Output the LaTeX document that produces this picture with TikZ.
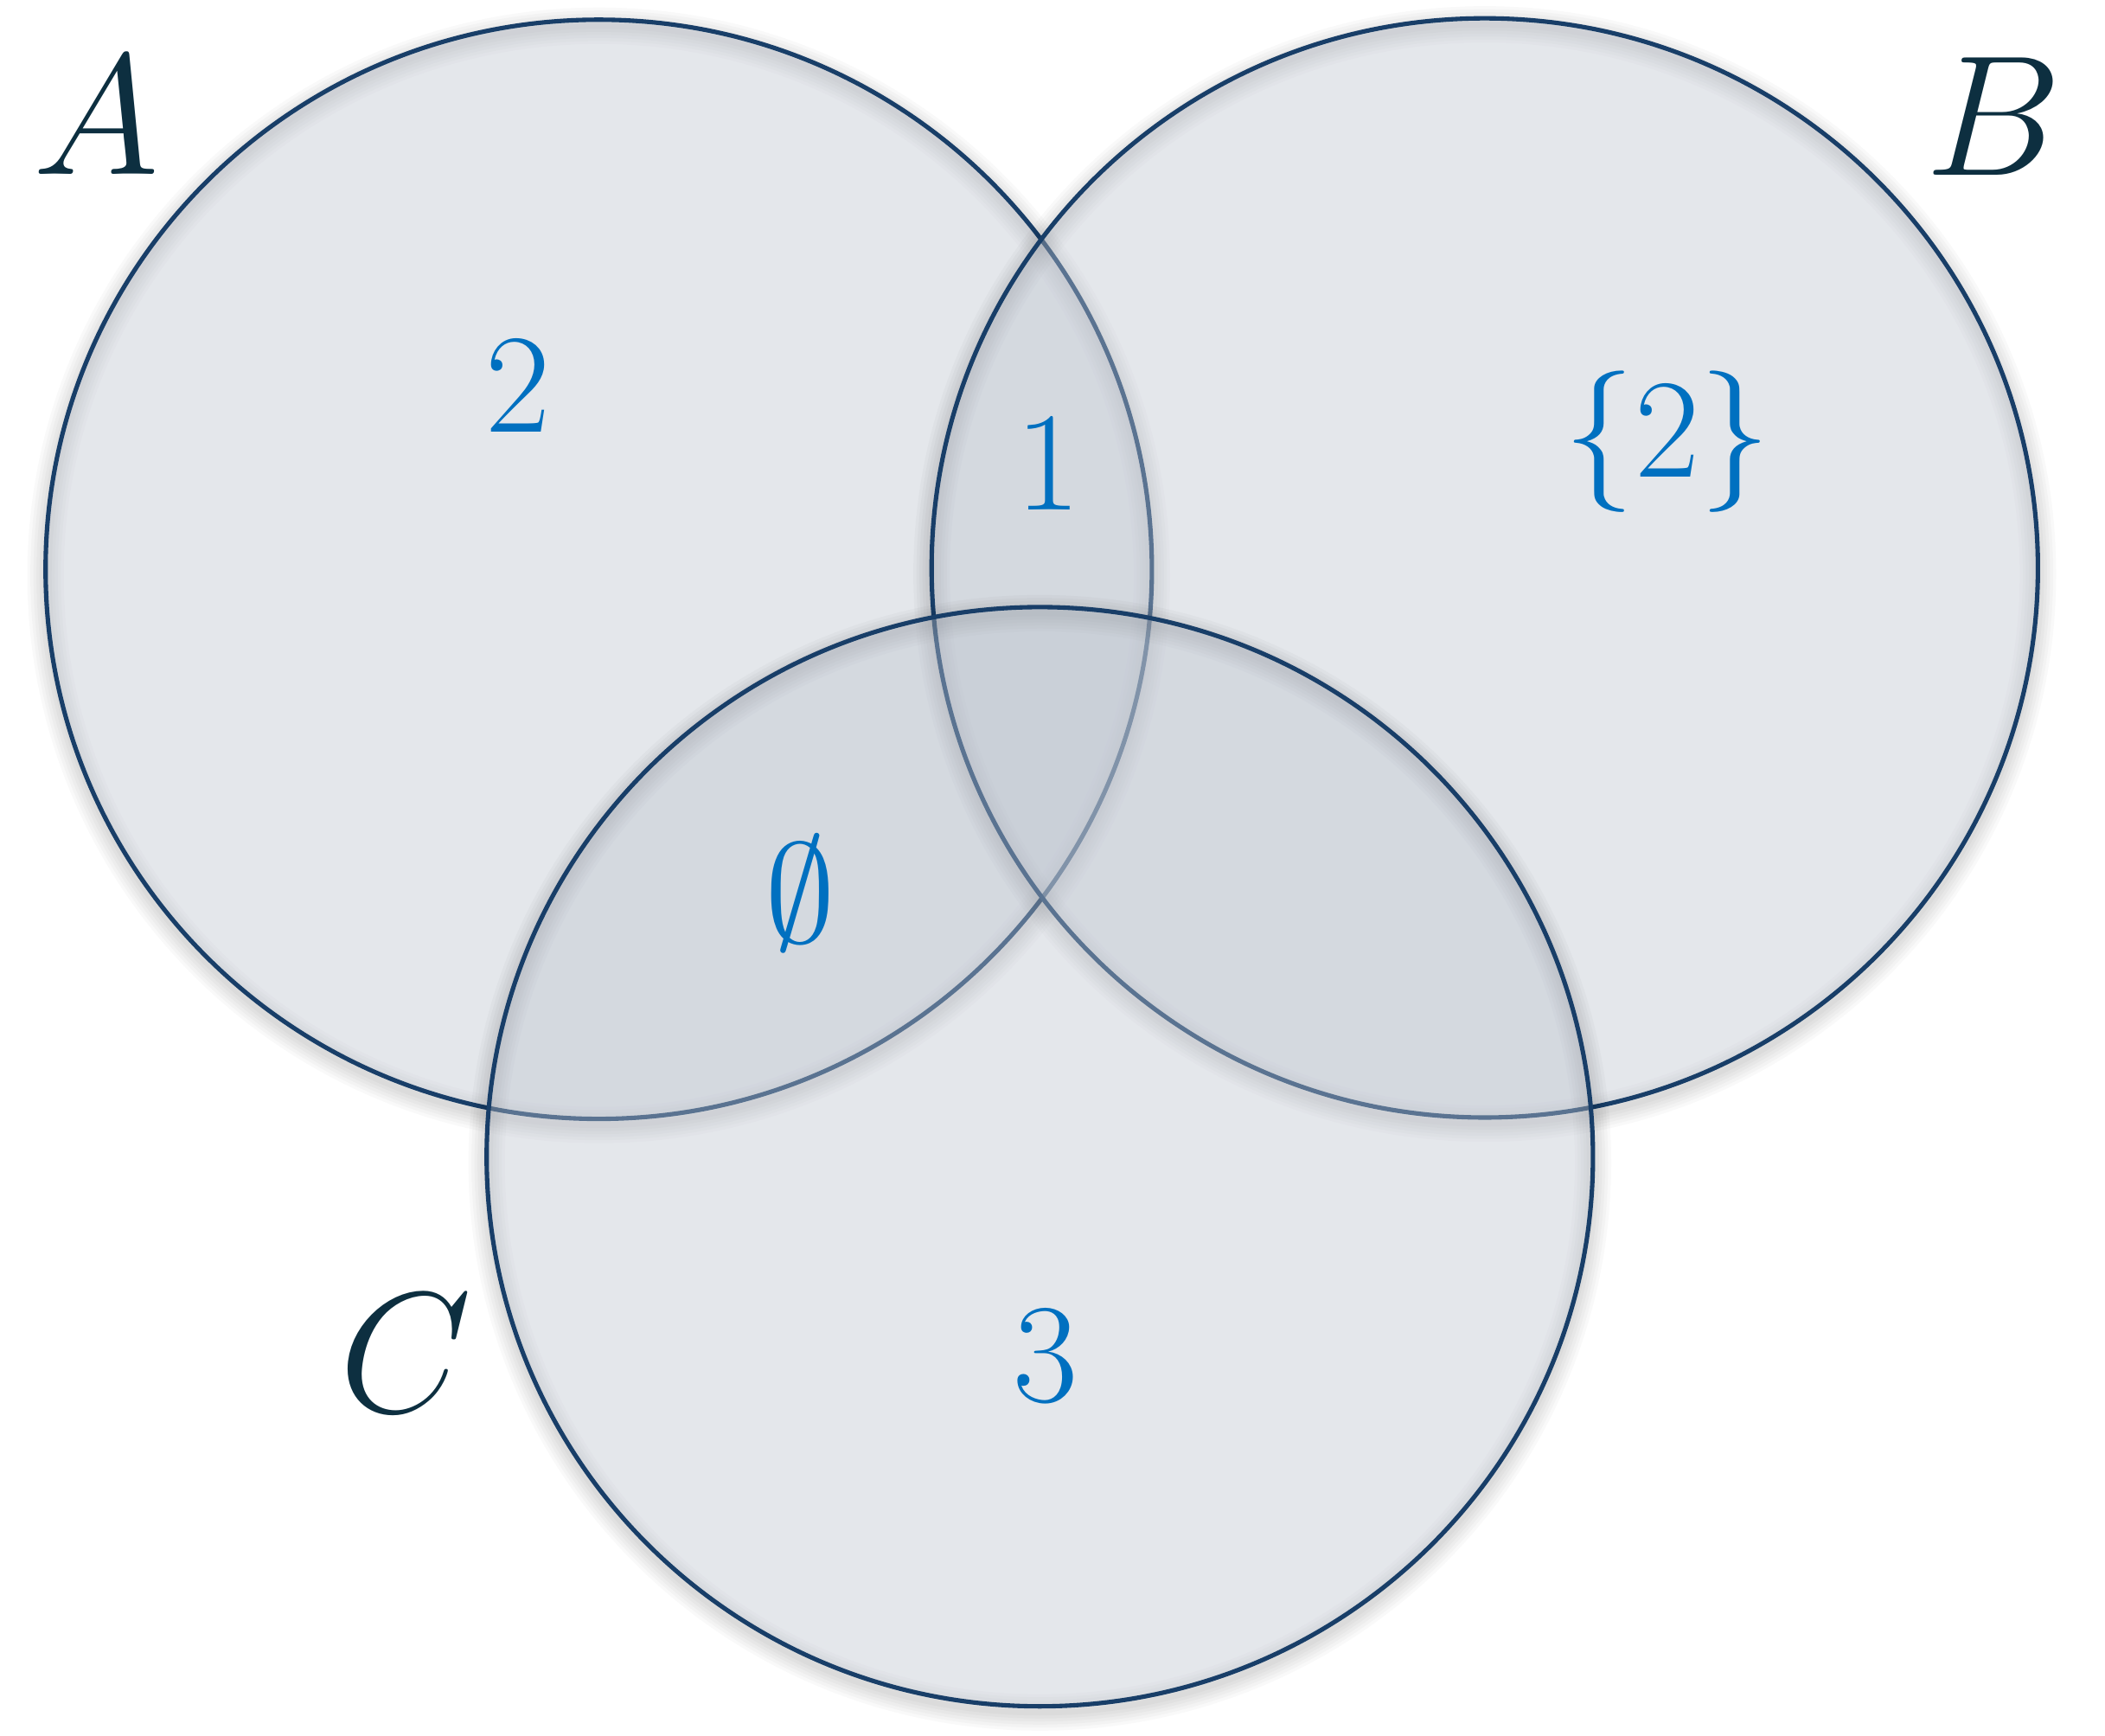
\documentclass[tikz,border=0pt]{standalone}
\definecolor{rim}{RGB}{24,62,104}
\definecolor{setfill}{RGB}{189,196,207}
\definecolor{lab}{RGB}{13,47,64}
\definecolor{val}{RGB}{0,112,192}
\tikzset{
  setcircle/.style={draw=rim, line width=1.45pt, fill=setfill, fill opacity=0.4},
  softshade/.style={draw=black, draw opacity=0.022},
  setname/.style={text=lab, font=\Huge, scale=2.27},
  setval/.style={text=val, font=\Huge, scale=1.87}
}
\newcommand{\vennring}[1]{%
  \foreach \w in {2,4,6,8,10,12}
    \draw[softshade, line width=\w pt] ([yshift=-2pt]#1) ellipse [x radius=6.396, y radius=6.354];
  \draw[setcircle] (#1) ellipse [x radius=6.396, y radius=6.354];
}
\begin{document}
\begin{tikzpicture}
\useasboundingbox (0,0) rectangle (24.34,20.06);
\fill[white] (0,0) rectangle (24.34,20.06);
\coordinate (ca) at (6.923,13.478);
\coordinate (cb) at (17.168,13.494);
\coordinate (cc) at (12.023,6.687);
\vennring{ca}
\vennring{cb}
\vennring{cc}
\node[setname] (la) at (1.118,18.725) {$A$};
\node[setname] (lb) at (23.052,18.71) {$B$};
\node[setname] (lc) at (4.688,4.413) {$C$};
\node[setval] (va) at (5.992,15.589) {$2$};
\node[setval] (vab) at (12.123,14.689) {$1$};
\node[setval] (vb) at (19.28,14.953) {$\{2\}$};
\node[setval] (vac) at (9.252,9.737) {$\emptyset$};
\node[setval] (vc) at (12.092,4.382) {$3$};
\end{tikzpicture}
\end{document}
